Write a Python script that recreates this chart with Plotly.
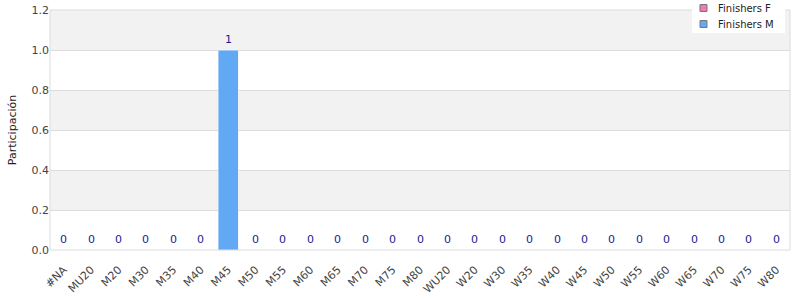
import plotly.graph_objects as go

categories = ["#NA", "MU20", "M20", "M30", "M35", "M40", "M45", "M50", "M55", "M60",
              "M65", "M70", "M75", "M80", "WU20", "W20", "W30", "W35", "W40", "W45",
              "W50", "W55", "W60", "W65", "W70", "W75", "W80"]
finishers_f = [0] * len(categories)
finishers_m = [0, 0, 0, 0, 0, 0, 1, 0, 0, 0, 0, 0, 0, 0, 0, 0, 0, 0, 0, 0, 0, 0, 0, 0, 0, 0, 0]
totals = [f + m for f, m in zip(finishers_f, finishers_m)]
y_ticks = [0.0, 0.2, 0.4, 0.6, 0.8, 1.0, 1.2]
series_names = ["Finishers F", "Finishers M"]

COL_F = "#f07ab3"
COL_M = "#62a9f5"
series_colors = [COL_F, COL_M]

# plot area in pixels: x 50..790, y 10..250
L, R, T, B = 50, 790, 10, 250
def px(x):
    return (x - L) / (R - L)
def py(y):
    return (B - y) / (B - T)

fig = go.Figure()
fig.add_trace(go.Bar(x=categories, y=finishers_f, marker_color=COL_F, showlegend=False, name=series_names[0]))
fig.add_trace(go.Bar(x=categories, y=finishers_m, marker_color=COL_M, showlegend=False, name=series_names[1]))

annotations = [dict(x=c, y=t, text=str(t), showarrow=False, yanchor="bottom", yshift=2,
                    font=dict(color="#1c1c8c", size=11))
               for c, t in zip(categories, totals)]

shapes = []
for i in range(len(y_ticks) - 1):
    if (len(y_ticks) - 2 - i) % 2 == 0:
        shapes.append(dict(type="rect", xref="paper", yref="y", x0=0, x1=1,
                           y0=y_ticks[i], y1=y_ticks[i + 1], fillcolor="#f2f2f2",
                           line=dict(width=0), layer="below"))
shapes.append(dict(type="rect", xref="paper", yref="paper", x0=0, x1=1, y0=0, y1=1,
                   line=dict(color="#dcdcdc", width=1), layer="above"))

# legend (drawn manually to match compact spacing)
shapes.append(dict(type="rect", xref="paper", yref="paper", x0=px(692), x1=px(785),
                   y0=py(33), y1=py(0), fillcolor="white", line=dict(width=0), layer="above"))
for k, (name, col) in enumerate(zip(series_names, series_colors)):
    cy = 8 + 16 * k
    shapes.append(dict(type="rect", xref="paper", yref="paper", x0=px(700), x1=px(707),
                       y0=py(cy + 3.5), y1=py(cy - 3.5), fillcolor=col,
                       line=dict(color="#777", width=1), layer="above"))
    annotations.append(dict(xref="paper", yref="paper", x=px(716), y=py(cy), text=name,
                            showarrow=False, xanchor="left", yanchor="middle",
                            font=dict(size=10, color="#222")))

fig.update_layout(
    width=800, height=300,
    margin=dict(l=L, r=800 - R, t=T, b=300 - B, autoexpand=False),
    barmode="stack", bargap=0.27,
    paper_bgcolor="white", plot_bgcolor="white",
    font=dict(family="DejaVu Sans", size=11, color="#444"),
    shapes=shapes, annotations=annotations,
    showlegend=False,
    xaxis=dict(tickangle=-45, tickfont=dict(size=11, color="#444"), showgrid=False, automargin=False,
               range=[-0.5, len(categories) - 0.5], ticks="outside", ticklen=8, tickcolor="rgba(0,0,0,0)"),
    yaxis=dict(range=[0, 1.2], tickvals=y_ticks, ticktext=[f"{v:.1f}" for v in y_ticks],
               gridcolor="#dcdcdc", zeroline=False, ticks="", automargin=False,
               title=dict(text="Participación", font=dict(size=11, color="#222"), standoff=12)),
)
fig.write_html("out.html")
